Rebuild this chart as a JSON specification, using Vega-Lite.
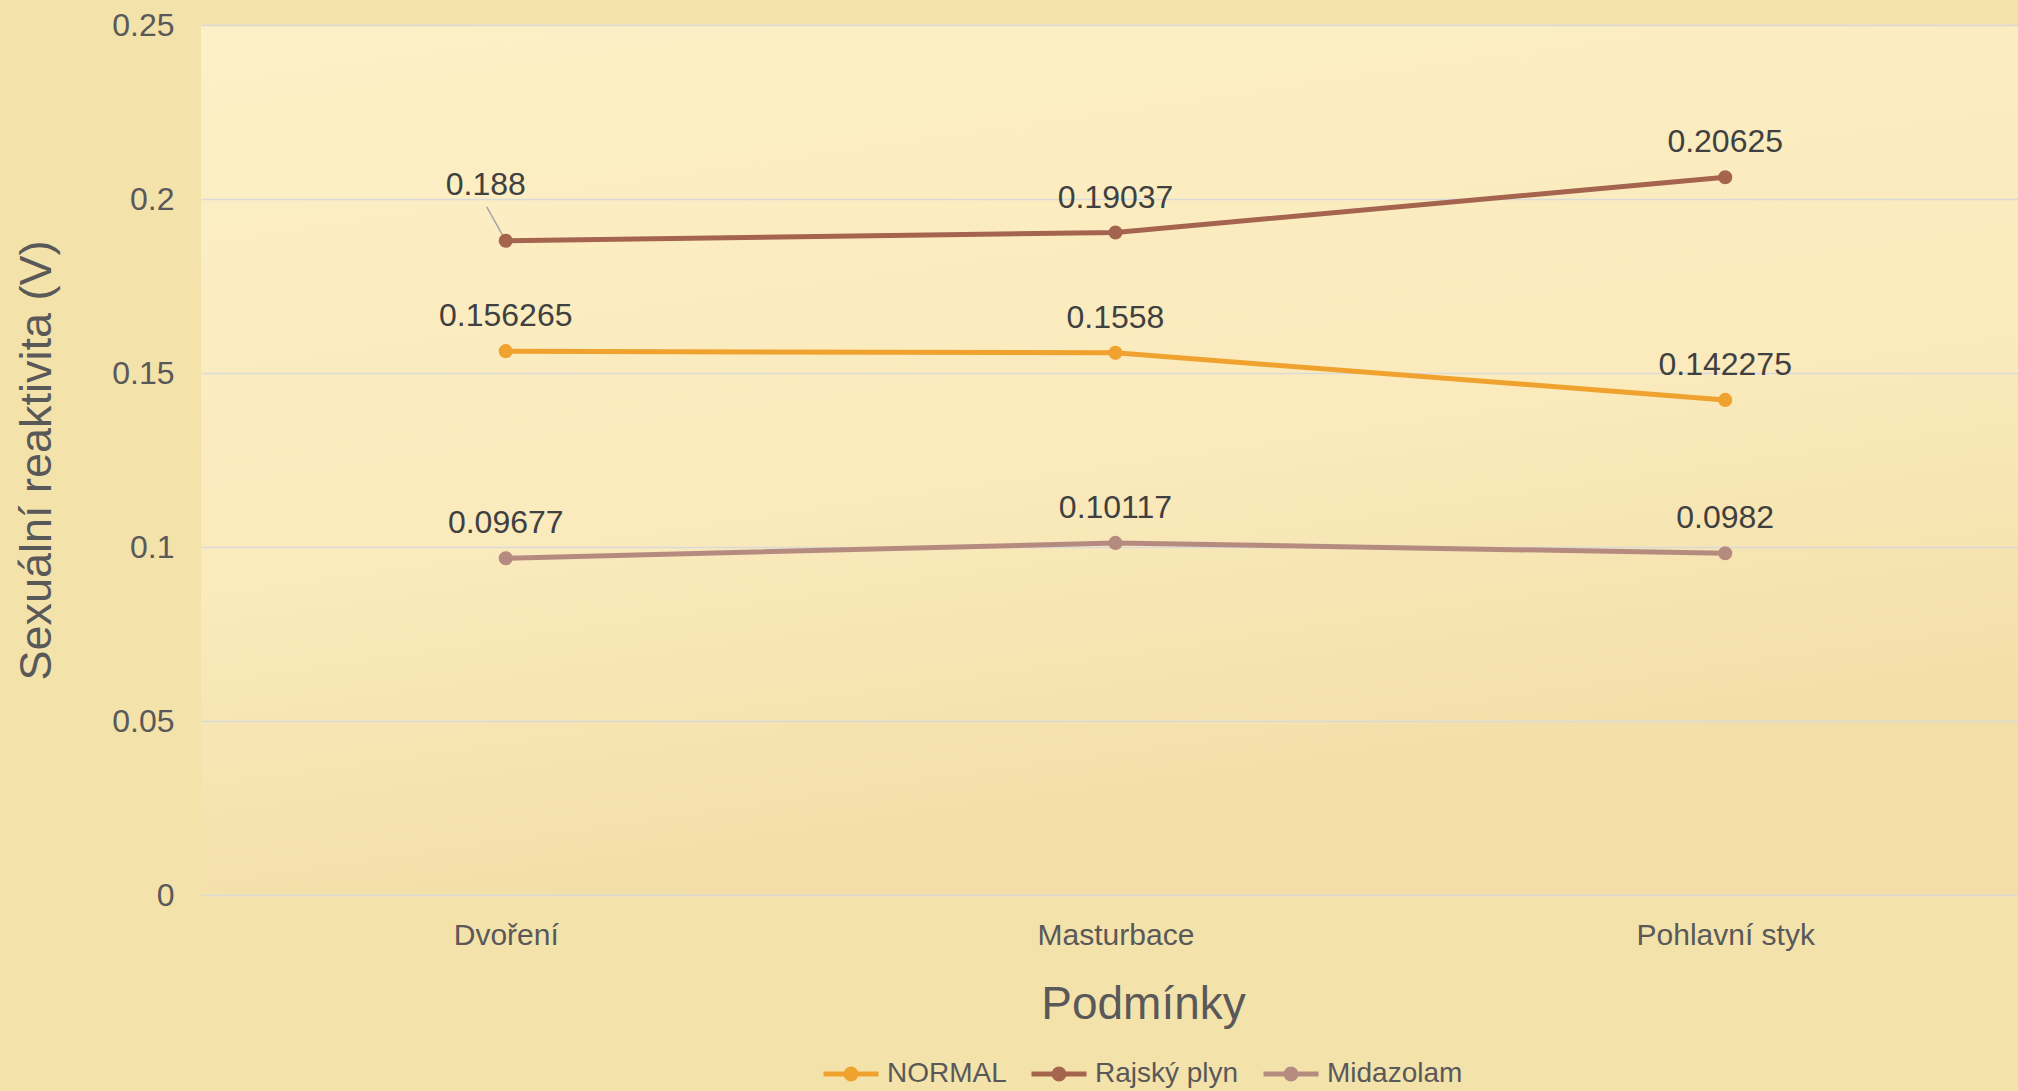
{
  "$schema": "https://vega.github.io/schema/vega-lite/v6.json",
  "width": 1817,
  "height": 870,
  "autosize": {"type": "none"},
  "padding": {"left": 201, "top": 25, "right": 0, "bottom": 196},
  "background": "#f4e2ab",
  "config": {
    "view": {
      "stroke": null,
      "fill": {"gradient": "linear", "x1": 0, "y1": 0, "x2": 0.3, "y2": 1,
        "stops": [{"offset": 0, "color": "#fdf0c6"}, {"offset": 0.6, "color": "#faeabc"}, {"offset": 1, "color": "#f2dea6"}]}
    },
    "font": "Liberation Sans"
  },
  "data": {
    "values": [
      {"podminky": "Dvoření", "skupina": "NORMAL", "hodnota": 0.156265},
      {"podminky": "Masturbace", "skupina": "NORMAL", "hodnota": 0.1558},
      {"podminky": "Pohlavní styk", "skupina": "NORMAL", "hodnota": 0.142275},
      {"podminky": "Dvoření", "skupina": "Rajský plyn", "hodnota": 0.188},
      {"podminky": "Masturbace", "skupina": "Rajský plyn", "hodnota": 0.19037},
      {"podminky": "Pohlavní styk", "skupina": "Rajský plyn", "hodnota": 0.20625},
      {"podminky": "Dvoření", "skupina": "Midazolam", "hodnota": 0.09677},
      {"podminky": "Masturbace", "skupina": "Midazolam", "hodnota": 0.10117},
      {"podminky": "Pohlavní styk", "skupina": "Midazolam", "hodnota": 0.0982}
    ]
  },
  "encoding": {
    "x": {
      "field": "podminky", "type": "ordinal",
      "sort": ["Dvoření", "Masturbace", "Pohlavní styk"],
      "scale": {"type": "point", "padding": 0.49, "align": 0.51},
      "axis": {
        "title": "Podmínky", "titleFontSize": 46, "titleFontWeight": "normal", "titleColor": "#595959",
        "titlePadding": 32, "titleX": 942,
        "labelFontSize": 30, "labelColor": "#595959", "labelPadding": 25, "labelAngle": 0,
        "ticks": false, "domain": false, "grid": false
      }
    },
    "y": {
      "field": "hodnota", "type": "quantitative",
      "scale": {"domain": [0, 0.25]},
      "axis": {
        "title": "Sexuální reaktivita (V)", "titleFontSize": 45, "titleFontWeight": "normal", "titleColor": "#595959",
        "titlePadding": 52,
        "labelFontSize": 32, "labelColor": "#595959", "labelPadding": 27,
        "ticks": false, "domain": false, "gridColor": "#D9D9D9", "gridWidth": 1.5,
        "values": [0, 0.05, 0.1, 0.15, 0.2, 0.25], "format": ".2~f"
      }
    },
    "color": {
      "field": "skupina", "type": "nominal",
      "scale": {"domain": ["NORMAL", "Rajský plyn", "Midazolam"], "range": ["#F0A22E", "#A5644E", "#B58B80"]},
      "legend": {
        "orient": "none", "legendX": 620, "legendY": 1019, "direction": "horizontal", "title": null,
        "labelFontSize": 28, "labelColor": "#595959", "labelOffset": 6, "columnPadding": 14,
        "symbolType": "M-1,0L1,0M-0.18,0A0.18,0.18,0,1,1,0.18,0A0.18,0.18,0,1,1,-0.18,0Z",
        "symbolSize": 3025, "symbolStrokeWidth": 5, "symbolOpacity": 1,
        "encode": {"symbols": {"update": {"fill": {"scale": "color", "field": "value"}, "stroke": {"scale": "color", "field": "value"}}}}
      }
    }
  },
  "layer": [
    {
      "transform": [{"filter": "datum.hodnota == 0.188"}],
      "mark": {"type": "rule", "strokeWidth": 1.5, "x2Offset": -19, "y2Offset": -34},
      "encoding": {"x2": {"field": "podminky"}, "y2": {"field": "hodnota"}, "color": {"value": "#A6A6A6"}}
    },
    {"mark": {"type": "line", "strokeWidth": 5}},
    {"mark": {"type": "point", "filled": true, "size": 200, "opacity": 1}},
    {
      "transform": [{"filter": "datum.hodnota != 0.188"}],
      "mark": {"type": "text", "dy": -35, "fontSize": 32, "baseline": "middle"},
      "encoding": {"text": {"field": "hodnota", "format": ".6~g"}, "color": {"value": "#404040"}}
    },
    {
      "transform": [{"filter": "datum.hodnota == 0.188"}],
      "mark": {"type": "text", "dx": -20, "dy": -56, "fontSize": 32, "baseline": "middle"},
      "encoding": {"text": {"field": "hodnota", "format": ".6~g"}, "color": {"value": "#404040"}}
    }
  ]
}
